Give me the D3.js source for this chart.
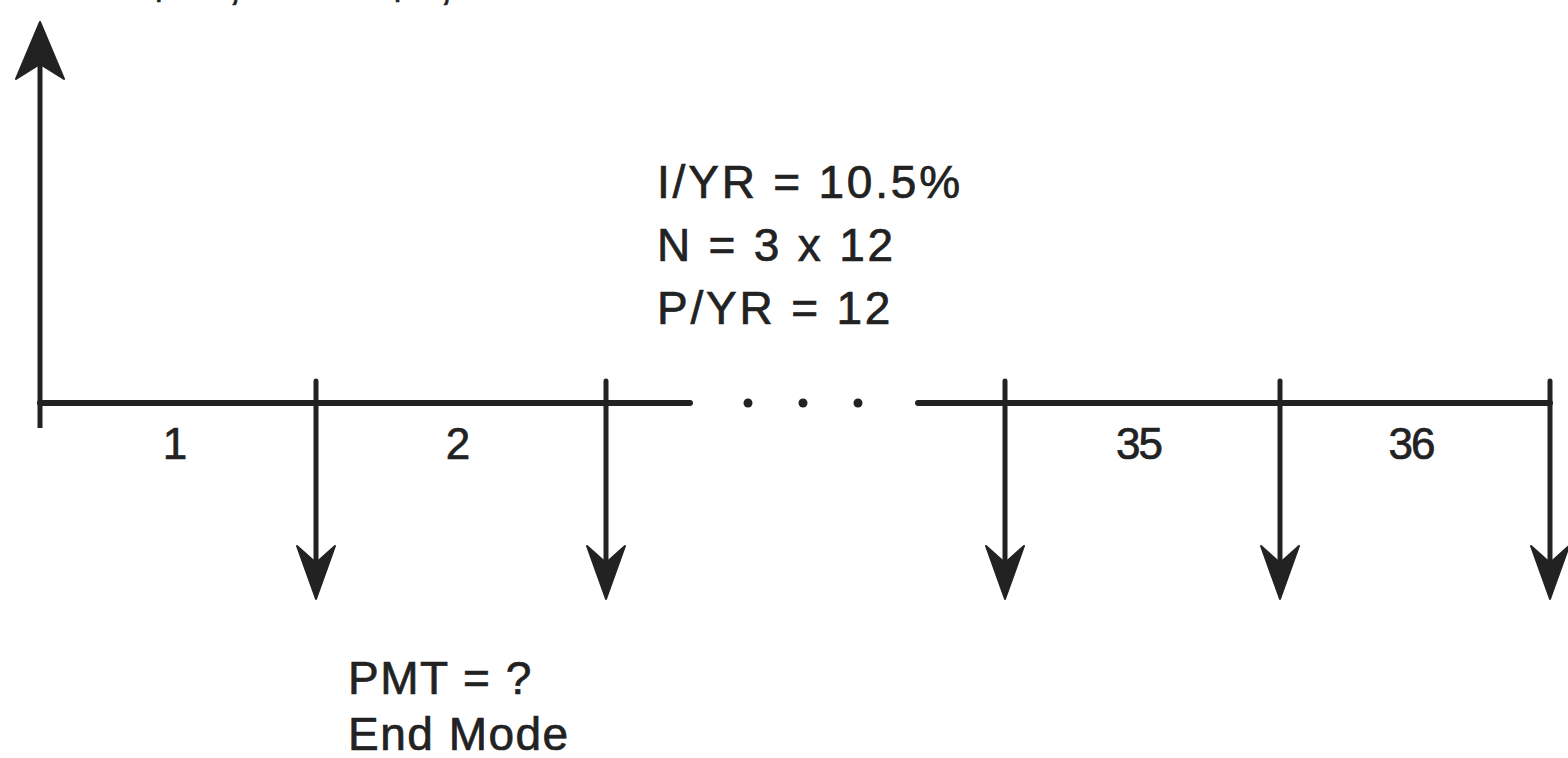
<!DOCTYPE html>
<html><head><meta charset="utf-8">
<script src="https://cdn.jsdelivr.net/npm/d3@7"></script>
<style>html,body{margin:0;padding:0;background:#fff;}svg{display:block;}</style>
</head><body>
<script>
// Data
const periodLabels = ["1", "2", "35", "36"];
const periodNumbers = [1, 2, 35, 36];
const paymentPeriods = [1, 2, 34, 35, 36];
const breakPoints = [0, 1, 2, 34, 35, 36];   // time-line domain with a gap between 2 and 34
const inputLines = ["I/YR = 10.5%", "N = 3 x 12", "P/YR = 12"];
const outputLines = ["PMT = ?", "End Mode"];
const topLabel = "PV = $18,000 \u2212 $3,000";

const W = 1568, H = 758;
const ink = "#222";
const font = "Liberation Sans, Arial, Helvetica, sans-serif";
const svg = d3.select("body").append("svg").attr("width", W).attr("height", H);

const x = d3.scaleLinear().domain(breakPoints).range([40, 316, 606, 1005, 1280, 1550]);
const yLine = 403;

function txt(sel) {
  return sel.attr("font-family", font).attr("fill", ink)
    .attr("stroke", ink).attr("stroke-width", 0.7);
}

// top (cut-off) label
txt(svg.append("text").attr("x", 22).attr("y", -1)
  .attr("font-size", 46).attr("letter-spacing", 2)).text(topLabel);

// Up arrow (PV) at time 0
const x0 = x(0);
svg.append("line").attr("x1", x0).attr("x2", x0).attr("y1", 428).attr("y2", 50)
  .attr("stroke", ink).attr("stroke-width", 5);
svg.append("path")
  .attr("d", `M${x0},22 L${x0+24},79 L${x0},64 L${x0-24},79 Z`)
  .attr("fill", ink).attr("stroke", ink).attr("stroke-width", 2).attr("stroke-linejoin", "round");

// time line segments
svg.append("line").attr("x1", x0).attr("x2", 690).attr("y1", yLine).attr("y2", yLine)
  .attr("stroke", ink).attr("stroke-width", 6).attr("stroke-linecap", "round");
svg.append("line").attr("x1", 918).attr("x2", x(36)).attr("y1", yLine).attr("y2", yLine)
  .attr("stroke", ink).attr("stroke-width", 6).attr("stroke-linecap", "round");
// ellipsis dots
svg.selectAll("circle.dot").data([-1, 0, 1]).enter().append("circle")
  .attr("cx", d => 803 + d * 55).attr("cy", yLine).attr("r", 4.5).attr("fill", ink);

// payment arrows
const pg = svg.selectAll("g.pmt").data(paymentPeriods).enter().append("g")
  .attr("transform", d => `translate(${x(d)},0)`);
pg.append("line").attr("x1", 0).attr("x2", 0).attr("y1", 381).attr("y2", 575)
  .attr("stroke", ink).attr("stroke-width", 5).attr("stroke-linecap", "round");
pg.append("path")
  .attr("d", "M0,599 L19,546 L0,563 L-19,546 Z")
  .attr("fill", ink).attr("stroke", ink).attr("stroke-width", 2).attr("stroke-linejoin", "round");

// period labels
txt(svg.selectAll("text.per").data(periodNumbers).enter().append("text")
  .attr("x", d => x(d - 0.5) - 4).attr("y", 459)
  .attr("text-anchor", "middle")
  .attr("font-size", 44).attr("letter-spacing", -2))
  .text((d, i) => periodLabels[i]);

// inputs
txt(svg.selectAll("text.inp").data(inputLines).enter().append("text")
  .attr("x", 657).attr("y", (d, i) => 198 + i * 63)
  .attr("font-size", 46).attr("letter-spacing", 2.8))
  .text(d => d);

// outputs
txt(svg.selectAll("text.out").data(outputLines).enter().append("text")
  .attr("x", 348).attr("y", (d, i) => 694 + i * 56)
  .attr("font-size", 46).attr("letter-spacing", 1.5))
  .text(d => d);
</script>
</body></html>
